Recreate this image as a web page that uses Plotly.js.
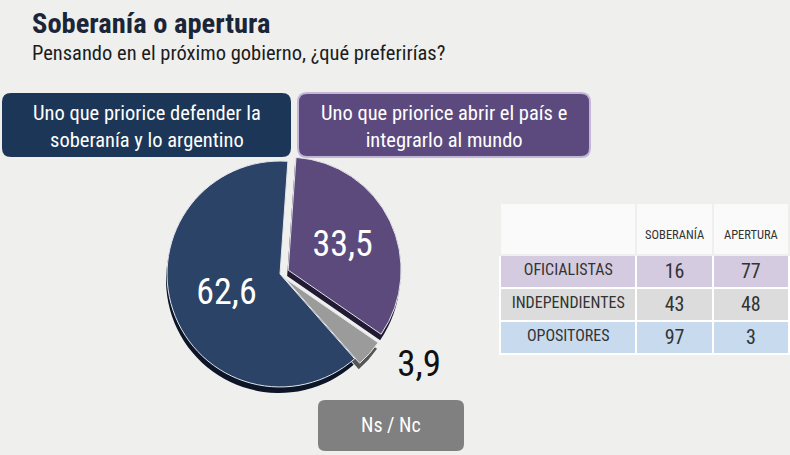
<!DOCTYPE html>
<html>
<head>
<meta charset="utf-8">
<script src="https://cdn.plot.ly/plotly-3.0.1.min.js"></script>
<style>
  body { margin: 0; background: #eff0ee; }
  #chart { width: 790px; height: 455px; }
</style>
</head>
<body>
<div id="chart"></div>
<script>
// pie data
var sliceLabels = ['Apertura', 'Ns / Nc', 'Soberanía'];
var sliceValues = [33.5, 3.9, 62.6];

// table data
var tableHeaders = ['', 'SOBERANÍA', 'APERTURA'];
var groups = ['OFICIALISTAS', 'INDEPENDIENTES', 'OPOSITORES'];
var soberania = [16, 43, 97];
var apertura = [77, 48, 3];

// texts
var titleText = 'Soberanía o apertura';
var subtitleText = 'Pensando en el próximo gobierno, ¿qué preferirías?';
var boxSoberania = 'Uno que priorice defender la<br>soberanía y lo argentino';
var boxApertura = 'Uno que priorice abrir el país e<br>integrarlo al mundo';
var boxNsNc = 'Ns / Nc';

var W = 790, H = 455;
var FONT = 'Roboto Condensed, Liberation Sans Narrow, Roboto, sans-serif';

function px(x) { return x / W; }
function py(y) { return 1 - y / H; }

// rounded rect path in paper coords
function roundRect(x0, y0, x1, y1, r) {
  var rx = r / W, ry = r / H;
  var a = px(x0), b = px(x1), t = py(y0), u = py(y1);
  return 'M' + (a + rx) + ',' + t +
    ' L' + (b - rx) + ',' + t +
    ' Q' + b + ',' + t + ' ' + b + ',' + (t - ry) +
    ' L' + b + ',' + (u + ry) +
    ' Q' + b + ',' + u + ' ' + (b - rx) + ',' + u +
    ' L' + (a + rx) + ',' + u +
    ' Q' + a + ',' + u + ' ' + a + ',' + (u + ry) +
    ' L' + a + ',' + (t - ry) +
    ' Q' + a + ',' + t + ' ' + (a + rx) + ',' + t + ' Z';
}

var pulls = [0.08, 0.06, 0];
var positions = ['inside', 'outside', 'inside'];
var pieX = [px(158), px(402)];
var pieY = [py(396), py(152)];

var shadow = {
  type: 'pie',
  labels: sliceLabels,
  values: sliceValues,
  sort: false,
  direction: 'clockwise',
  rotation: 4,
  pull: pulls,
  textinfo: 'none',
  hoverinfo: 'skip',
  showlegend: false,
  domain: {x: [pieX[0] - 1 / W, pieX[1] - 1 / W], y: [pieY[0] - 6 / H, pieY[1] - 6 / H]},
  marker: {colors: ['#221a33', '#555555', '#0c1628'], line: {width: 0}}
};

var pie = {
  type: 'pie',
  labels: sliceLabels,
  values: sliceValues,
  sort: false,
  direction: 'clockwise',
  rotation: 4,
  pull: pulls,
  // outside label gets a little left padding so it sits further from the slice
  text: sliceValues.map(function(v, i) {
    var s = v.toFixed(1).replace('.', ',');
    return positions[i] == 'outside' ? '\u00a0\u00a0' + s : s;
  }),
  textinfo: 'text',
  textposition: positions,
  insidetextorientation: 'horizontal',
  insidetextfont: {family: FONT, size: 36, color: '#ffffff'},
  outsidetextfont: {family: FONT, size: 37, color: '#111111'},
  hoverinfo: 'label+value',
  showlegend: false,
  domain: {x: pieX, y: pieY},
  marker: {colors: ['#5c4a7c', '#9b9b9b', '#2b4366'], line: {color: '#e4e4ea', width: 1}}
};

var rowColors = ['#d5cbe0', '#dcdcdc', '#c8daee'];

var table = {
  type: 'table',
  domain: {x: [px(500), px(790)], y: [py(355), py(203)]},
  columnwidth: [136, 76, 76],
  header: {
    values: tableHeaders.map(function(h) { return '\u00a0<br>' + h; }),
    height: 52,
    align: 'center',
    fill: {color: '#fafafa'},
    line: {color: '#eff0ee', width: 2},
    font: {family: FONT, size: 12.5, color: '#333333'}
  },
  cells: {
    values: [groups, soberania, apertura],
    height: 33,
    align: 'center',
    fill: {color: [rowColors, rowColors, rowColors]},
    line: {color: '#ffffff', width: 2},
    font: {family: FONT, size: [16, 20, 20], color: '#333333'}
  }
};

var layout = {
  width: W,
  height: H,
  margin: {l: 0, r: 0, t: 0, b: 0},
  paper_bgcolor: '#eff0ee',
  plot_bgcolor: '#eff0ee',
  font: {family: FONT},
  shapes: [
    {type: 'path', xref: 'paper', yref: 'paper', path: roundRect(2, 93, 291, 157, 9),
      fillcolor: '#1c3658', line: {width: 0}},
    {type: 'path', xref: 'paper', yref: 'paper', path: roundRect(298, 93, 590, 157, 9),
      fillcolor: '#5c4a7e', line: {color: '#c3b6d8', width: 2}},
    {type: 'path', xref: 'paper', yref: 'paper', path: roundRect(318, 400, 464, 451, 7),
      fillcolor: '#808080', line: {width: 0}}
  ],
  annotations: [
    {xref: 'paper', yref: 'paper', x: px(30), y: py(23), xanchor: 'left', yanchor: 'middle',
      text: '<b>' + titleText + '</b>', showarrow: false,
      font: {family: FONT, size: 28.5, color: '#1b2538'}},
    {xref: 'paper', yref: 'paper', x: px(30), y: py(53), xanchor: 'left', yanchor: 'middle',
      text: subtitleText, showarrow: false,
      font: {family: FONT, size: 20.5, color: '#1c1c1c'}},
    {xref: 'paper', yref: 'paper', x: px(147), y: py(126), xanchor: 'center', yanchor: 'middle',
      text: boxSoberania, showarrow: false,
      font: {family: FONT, size: 20.5, color: '#ffffff'}},
    {xref: 'paper', yref: 'paper', x: px(444), y: py(126), xanchor: 'center', yanchor: 'middle',
      text: boxApertura, showarrow: false,
      font: {family: FONT, size: 20.5, color: '#ffffff'}},
    {xref: 'paper', yref: 'paper', x: px(391), y: py(425), xanchor: 'center', yanchor: 'middle',
      text: boxNsNc, showarrow: false,
      font: {family: FONT, size: 20, color: '#ffffff'}}
  ]
};

Plotly.newPlot('chart', [shadow, pie, table], layout, {displayModeBar: false, staticPlot: true});
</script>
</body>
</html>
